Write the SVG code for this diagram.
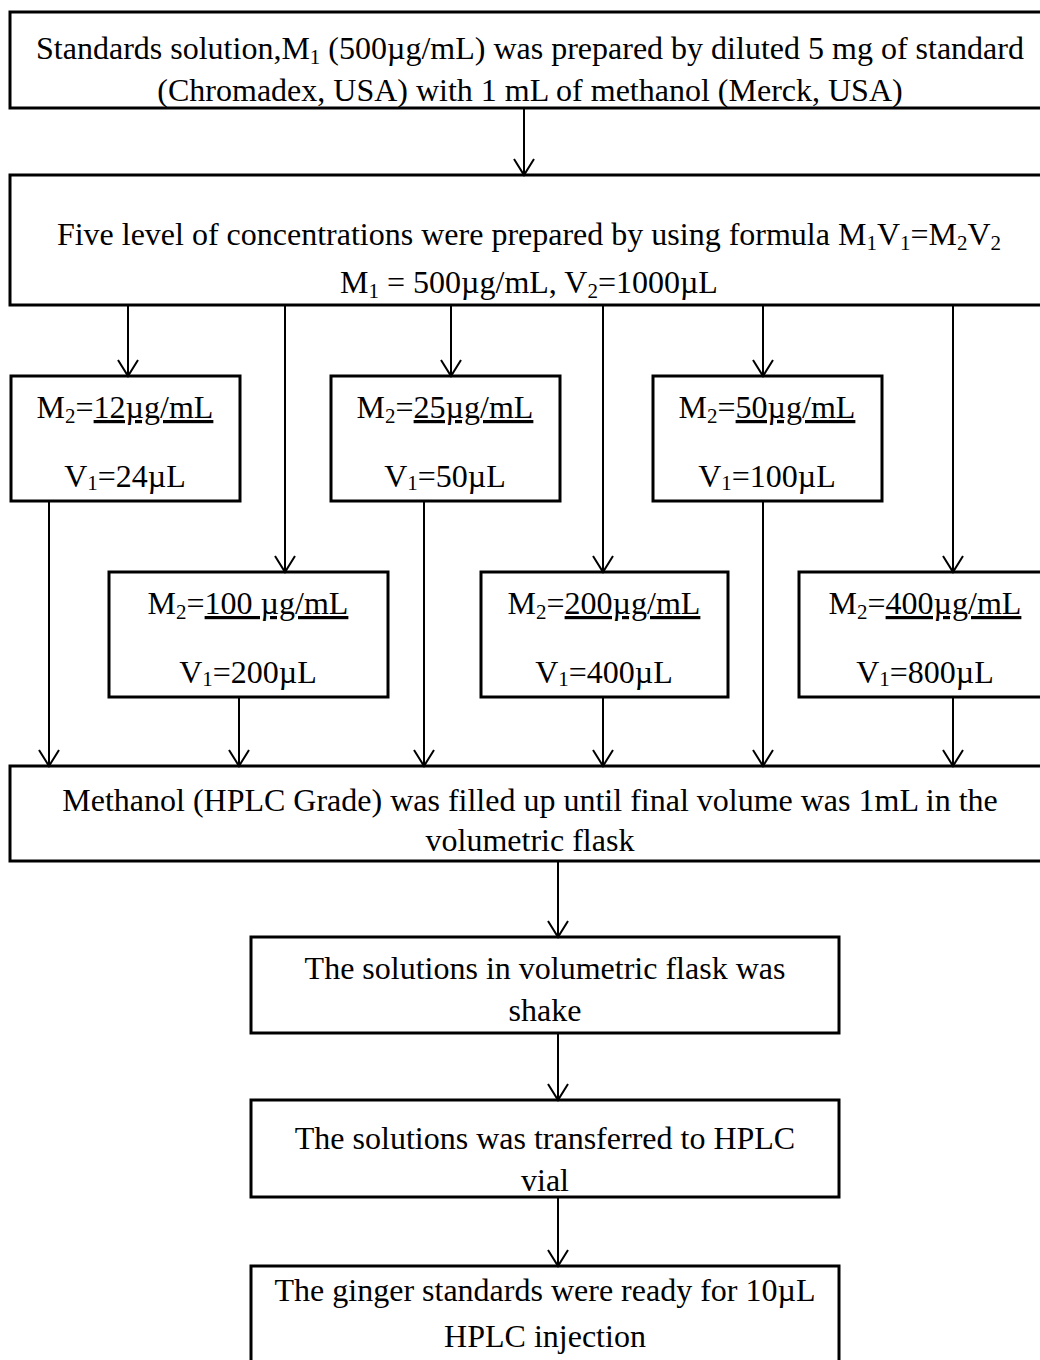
<svg xmlns="http://www.w3.org/2000/svg" width="1040" height="1360" viewBox="0 0 1040 1360">
<style>
  .box{fill:#fff;stroke:#000;stroke-width:3}
  .t{font-family:"Liberation Serif","Times New Roman",serif;font-size:32px;fill:#000;text-anchor:middle}
  .s{font-size:21px}
  .u{text-decoration:underline}
  .c line{stroke:#000;stroke-width:2;fill:none}
</style>
<defs>
  <marker id="ah" markerUnits="userSpaceOnUse" markerWidth="20" markerHeight="24" viewBox="-18 -12 20 24" refX="0" refY="0" orient="auto">
    <path d="M-16,-10 L0,0 L-16,10" fill="none" stroke="#000" stroke-width="2"/>
  </marker>
</defs>
<rect width="1040" height="1360" fill="#fff"/>

<g id="n1">
  <rect class="box" x="10" y="12" width="1040" height="96"/>
  <text class="t" x="530" y="59">Standards solution,M<tspan class="s" dy="5">1</tspan><tspan dy="-5"> (500µg/mL) was prepared by diluted 5 mg of standard</tspan></text>
  <text class="t" x="530" y="101">(Chromadex, USA) with 1 mL of methanol (Merck, USA)</text>
</g>
<g id="n2">
  <rect class="box" x="10" y="175" width="1040" height="130"/>
  <text class="t" x="529" y="245">Five level of concentrations were prepared by using formula M<tspan class="s" dy="5">1</tspan><tspan dy="-5">V</tspan><tspan class="s" dy="5">1</tspan><tspan dy="-5">=M</tspan><tspan class="s" dy="5">2</tspan><tspan dy="-5">V</tspan><tspan class="s" dy="5">2</tspan></text>
  <text class="t" x="529" y="293">M<tspan class="s" dy="5">1</tspan><tspan dy="-5"> = 500µg/mL, V</tspan><tspan class="s" dy="5">2</tspan><tspan dy="-5">=1000µL</tspan></text>
</g>
<g id="n3">
  <rect class="box" x="11" y="376" width="229" height="125"/>
  <text class="t" x="125" y="418">M<tspan class="s" dy="5">2</tspan><tspan dy="-5">=</tspan><tspan class="u">12µg/mL</tspan></text>
  <text class="t" x="125" y="487">V<tspan class="s" dy="3">1</tspan><tspan dy="-3">=24µL</tspan></text>
</g>
<g id="n4">
  <rect class="box" x="331" y="376" width="229" height="125"/>
  <text class="t" x="445" y="418">M<tspan class="s" dy="5">2</tspan><tspan dy="-5">=</tspan><tspan class="u">25µg/mL</tspan></text>
  <text class="t" x="445" y="487">V<tspan class="s" dy="3">1</tspan><tspan dy="-3">=50µL</tspan></text>
</g>
<g id="n5">
  <rect class="box" x="653" y="376" width="229" height="125"/>
  <text class="t" x="767" y="418">M<tspan class="s" dy="5">2</tspan><tspan dy="-5">=</tspan><tspan class="u">50µg/mL</tspan></text>
  <text class="t" x="767" y="487">V<tspan class="s" dy="3">1</tspan><tspan dy="-3">=100µL</tspan></text>
</g>
<g id="n6">
  <rect class="box" x="109" y="572" width="279" height="125"/>
  <text class="t" x="248" y="614">M<tspan class="s" dy="5">2</tspan><tspan dy="-5">=</tspan><tspan class="u">100 µg/mL</tspan></text>
  <text class="t" x="248" y="683">V<tspan class="s" dy="3">1</tspan><tspan dy="-3">=200µL</tspan></text>
</g>
<g id="n7">
  <rect class="box" x="481" y="572" width="247" height="125"/>
  <text class="t" x="604" y="614">M<tspan class="s" dy="5">2</tspan><tspan dy="-5">=</tspan><tspan class="u">200µg/mL</tspan></text>
  <text class="t" x="604" y="683">V<tspan class="s" dy="3">1</tspan><tspan dy="-3">=400µL</tspan></text>
</g>
<g id="n8">
  <rect class="box" x="799" y="572" width="252" height="125"/>
  <text class="t" x="925" y="614">M<tspan class="s" dy="5">2</tspan><tspan dy="-5">=</tspan><tspan class="u">400µg/mL</tspan></text>
  <text class="t" x="925" y="683">V<tspan class="s" dy="3">1</tspan><tspan dy="-3">=800µL</tspan></text>
</g>
<g id="n9">
  <rect class="box" x="10" y="766" width="1040" height="95"/>
  <text class="t" x="530" y="811">Methanol (HPLC Grade) was filled up until final volume was 1mL in the</text>
  <text class="t" x="530" y="851">volumetric flask</text>
</g>
<g id="n10">
  <rect class="box" x="251" y="937" width="588" height="96"/>
  <text class="t" x="545" y="979">The solutions in volumetric flask was</text>
  <text class="t" x="545" y="1021">shake</text>
</g>
<g id="n11">
  <rect class="box" x="251" y="1100" width="588" height="97"/>
  <text class="t" x="545" y="1149">The solutions was transferred to HPLC</text>
  <text class="t" x="545" y="1191">vial</text>
</g>
<g id="n12">
  <rect class="box" x="251" y="1266" width="588" height="110"/>
  <text class="t" x="545" y="1301">The ginger standards were ready for 10µL</text>
  <text class="t" x="545" y="1347">HPLC injection</text>
</g>

<g id="connectors" class="c">
  <line x1="524" y1="108" x2="524" y2="175" marker-end="url(#ah)"/>
  <line x1="128" y1="305" x2="128" y2="376" marker-end="url(#ah)"/>
  <line x1="285" y1="305" x2="285" y2="572" marker-end="url(#ah)"/>
  <line x1="451" y1="305" x2="451" y2="376" marker-end="url(#ah)"/>
  <line x1="603" y1="305" x2="603" y2="572" marker-end="url(#ah)"/>
  <line x1="763" y1="305" x2="763" y2="376" marker-end="url(#ah)"/>
  <line x1="953" y1="305" x2="953" y2="572" marker-end="url(#ah)"/>
  <line x1="49" y1="501" x2="49" y2="766" marker-end="url(#ah)"/>
  <line x1="239" y1="697" x2="239" y2="766" marker-end="url(#ah)"/>
  <line x1="424" y1="501" x2="424" y2="766" marker-end="url(#ah)"/>
  <line x1="603" y1="697" x2="603" y2="766" marker-end="url(#ah)"/>
  <line x1="763" y1="501" x2="763" y2="766" marker-end="url(#ah)"/>
  <line x1="953" y1="697" x2="953" y2="766" marker-end="url(#ah)"/>
  <line x1="558" y1="861" x2="558" y2="937" marker-end="url(#ah)"/>
  <line x1="558" y1="1033" x2="558" y2="1100" marker-end="url(#ah)"/>
  <line x1="558" y1="1197" x2="558" y2="1266" marker-end="url(#ah)"/>
</g>
</svg>
